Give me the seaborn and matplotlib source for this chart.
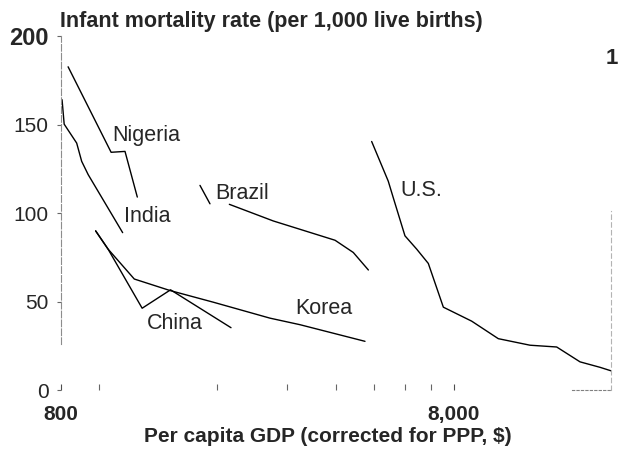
import matplotlib
matplotlib.use("Agg")
import matplotlib.pyplot as plt
from matplotlib.ticker import FixedLocator, NullFormatter
import pandas as pd
import seaborn as sns

# Data (GDP per capita, PPP $; infant deaths per 1,000)
nigeria_gdp = [834, 1073, 1164, 1251]
nigeria_rate = [182.6, 134.3, 134.8, 109.0]

india_gdp = [805, 815, 877, 903, 938, 1148]
india_rate = [164.0, 150.2, 139.5, 129.2, 121.7, 88.9]

brazil_early_gdp = [1806, 1915]
brazil_early_rate = [115.6, 105.2]
brazil_gdp = [2145, 2775, 3244, 3985, 4434, 4844]
brazil_rate = [104.9, 95.5, 90.8, 84.6, 77.7, 67.8]

korea_gdp = [980, 1054, 1229, 1515, 1953, 2721, 3244, 4749]
korea_rate = [89.9, 79.6, 62.7, 56.2, 49.6, 40.6, 36.9, 27.5]

china_gdp = [980, 1054, 1287, 1520, 2166]
china_rate = [89.9, 79.6, 46.2, 56.6, 35.2]

us_gdp = [4938, 5442, 5605, 6002, 6428, 6882, 7515, 8872, 10370, 12490,
          14600, 16740, 18830, 20100]
us_rate = [140.4, 118.0, 108.6, 87.1, 79.6, 71.5, 46.8, 38.9, 29.0, 25.3,
           24.3, 15.9, 12.8, 10.8]

y_ticks = [0, 50, 100, 150, 200]
x_ticks = [800, 8000]
x_tick_labels = ["800", "8,000"]
x_minor = [1000, 2000, 3000, 4000, 5000, 6000, 7000]

# label text and where it sits (data coords)
labels = ["Nigeria", "India", "Brazil", "China", "Korea", "U.S."]
label_gdp = [1082, 1156, 1972, 1323, 3151, 5830]
label_rate = [143.8, 97.8, 111.2, 37.6, 46.1, 112.9]

segments = [
    ("Nigeria", nigeria_gdp, nigeria_rate),
    ("India", india_gdp, india_rate),
    ("Brazil a", brazil_early_gdp, brazil_early_rate),
    ("Brazil", brazil_gdp, brazil_rate),
    ("Korea", korea_gdp, korea_rate),
    ("China", china_gdp, china_rate),
    ("U.S.", us_gdp, us_rate),
]
rows = []
for name, xs, ys in segments:
    for gx, ry in zip(xs, ys):
        rows.append({"segment": name, "gdp": gx, "rate": ry})
df = pd.DataFrame(rows)

sns.set_style("white")
plt.rcParams["font.family"] = ["Liberation Sans", "DejaVu Sans"]

fig = plt.figure(figsize=(6.19, 4.5), dpi=100)
ax = fig.add_axes([61 / 619, 1 - 390 / 450, 550 / 619, 354 / 450])

sns.lineplot(data=df, x="gdp", y="rate", units="segment", estimator=None,
             sort=False, color="black", linewidth=1.0, ax=ax)

ax.set_xscale("log")
ax.set_xlim(800, 20070)
ax.set_ylim(0, 200)

# y axis
ax.yaxis.set_major_locator(FixedLocator(y_ticks))
ax.set_yticklabels([str(v) for v in y_ticks])
ax.tick_params(axis="y", which="major", length=3, width=0.8, color="0.4",
               labelsize=15, pad=6, left=True)
ylabs = ax.get_yticklabels()
ylabs[-1].set_fontweight("bold")
ylabs[-1].set_fontsize(17)

# x axis
ax.xaxis.set_major_locator(FixedLocator(x_ticks))
ax.set_xticklabels(x_tick_labels)
ax.xaxis.set_minor_locator(FixedLocator(x_minor))
ax.xaxis.set_minor_formatter(NullFormatter())
ax.tick_params(axis="x", which="major", direction="in", length=4, width=0.8,
               color="0.3", labelsize=15, pad=11, bottom=True)
ax.tick_params(axis="x", which="minor", direction="in", length=4, width=0.8,
               color="0.4", bottom=True)
for t in ax.get_xticklabels():
    t.set_fontweight("bold")

ax.set_xlabel("Per capita GDP (corrected for PPP, $)", fontsize=15,
              fontweight="bold")
ax.xaxis.set_label_coords(0.485, -0.13)
ax.xaxis.label.set_va("center")
ax.set_ylabel("")

# faint scanned frame
ax.spines["top"].set_visible(False)
ax.spines["left"].set_color("0.55")
ax.spines["left"].set_linewidth(0.8)
ax.spines["left"].set_linestyle((0, (6, 2)))
ax.spines["left"].set_bounds(26, 200)
ax.spines["right"].set_color("0.7")
ax.spines["right"].set_linewidth(0.8)
ax.spines["right"].set_linestyle((0, (4, 3)))
ax.spines["right"].set_bounds(0, 101)
ax.spines["bottom"].set_color("0.5")
ax.spines["bottom"].set_linewidth(0.8)
ax.spines["bottom"].set_linestyle((0, (2, 2)))
ax.spines["bottom"].set_bounds(15970, 20070)

for name, gx, ry in zip(labels, label_gdp, label_rate):
    ax.text(gx, ry, name, fontsize=15.5, ha="left", va="center")

fig.text(60 / 619, 1 - 21 / 450, "Infant mortality rate (per 1,000 live births)",
         fontsize=15.5, fontweight="bold", ha="left", va="center")
fig.text(618 / 619, 1 - 58 / 450, "1", fontsize=16, fontweight="bold",
         ha="right", va="center")

fig.savefig("out.png", dpi=100)
